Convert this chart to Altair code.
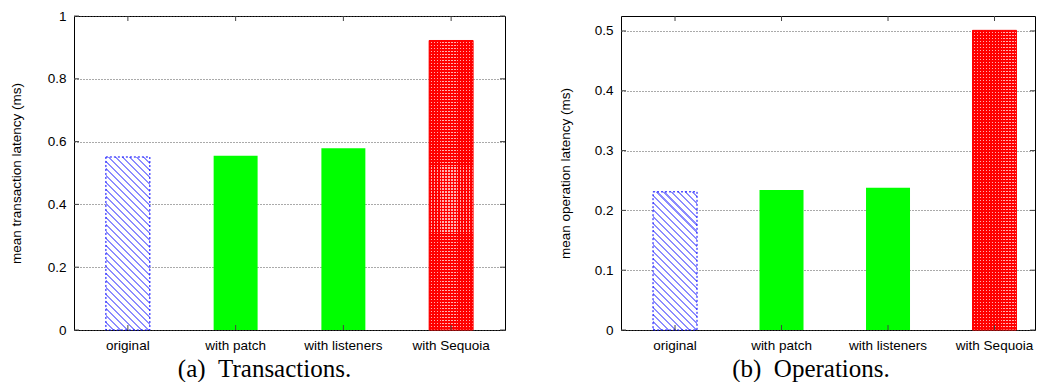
import altair as alt
import pandas as pd

# ---------------- data ----------------
categories = ["original", "with patch", "with listeners", "with Sequoia"]
tx_latency = [0.551, 0.555, 0.579, 0.922]
op_latency = [0.231, 0.234, 0.238, 0.501]
tx_ticks = [0, 0.2, 0.4, 0.6, 0.8, 1.0]
op_ticks = [0, 0.1, 0.2, 0.3, 0.4, 0.5]
tx_max = 1.0
op_max = 0.525
tx_title = "mean transaction latency (ms)"
op_title = "mean operation latency (ms)"
tx_caption = "(a)\u2002Transactions."
op_caption = "(b)\u2002Operations."

# ---------------- style ----------------
FONT = "Liberation Sans"
H = 314
BAR_W = 44
W_LEFT = 431
W_RIGHT = 414
TICK_COLOR = "#444444"


def stripes(n, frac, c_on, c_off):
    stops = []
    for k in range(n):
        a = k / n
        b = (k + frac) / n
        c = min(1.0, (k + 1) / n)
        stops += [
            {"offset": a, "color": c_on},
            {"offset": b, "color": c_on},
            {"offset": b, "color": c_off},
            {"offset": c, "color": c_off},
        ]
    return stops


def hatch(w, h, period=5.0, frac=0.3):
    a = w / h
    s = 1.25
    L = s * h * (a * a + 1) / 2 ** 0.5
    n = max(1, round(L / period))
    return {"gradient": "linear", "x1": 0, "y1": 1, "x2": s * a, "y2": 1 - s,
            "stops": stripes(n, frac, "#8c8cff", "#ffffff")}


def mesh_h(h, period=3.0, frac=0.55):
    n = max(1, round(h / period))
    return {"gradient": "linear", "x1": 0, "y1": 0, "x2": 0, "y2": 1,
            "stops": stripes(n, frac, "#ff0000", "#ffb0b0")}


def mesh_v(w, period=3.0, frac=0.55):
    n = max(1, round(w / period))
    return {"gradient": "linear", "x1": 0, "y1": 0, "x2": 1, "y2": 0,
            "stops": stripes(n, frac, "#ff0000", "rgba(255,0,0,0)")}


def panel(values, ymax, ticks, ytitle, caption, width, xscale, title_x, cap_dx):
    df = pd.DataFrame({"cat": categories, "val": values})
    tdf = pd.DataFrame({"val": ticks})
    cdf = pd.DataFrame({"cat": categories})
    yscale = alt.Scale(domain=[0, ymax], nice=False, zero=True)

    x_axis = alt.Axis(title=None, labelAngle=0, ticks=False, domain=False, labelPadding=8)
    y_axis = alt.Axis(values=ticks, format="~g", grid=True, gridColor="#555555",
                      gridDash=[1, 2], gridWidth=1, ticks=False, domain=False,
                      labelPadding=8, title=ytitle, titleX=title_x, titleY=H / 2)
    x = alt.X("cat:N", sort=categories, scale=xscale, axis=x_axis)
    y = alt.Y("val:Q", scale=yscale, axis=y_axis)
    base = alt.Chart(df).encode(x=x, y=y)

    h_orig = values[0] / ymax * H
    h_red = values[3] / ymax * H

    orig = base.transform_filter(alt.datum.cat == categories[0]).mark_bar(
        fill=hatch(BAR_W, h_orig), stroke="#0000ff", strokeDash=[2, 2], strokeWidth=1)
    green = base.transform_filter(
        (alt.datum.cat == categories[1]) | (alt.datum.cat == categories[2])
    ).mark_bar(color="#00ff00")
    red1 = base.transform_filter(alt.datum.cat == categories[3]).mark_bar(
        fill=mesh_h(h_red))
    red2 = base.transform_filter(alt.datum.cat == categories[3]).mark_bar(
        fill=mesh_v(BAR_W), stroke="#ff0000", strokeWidth=1)

    yt = alt.Chart(tdf).encode(y=y)
    lt = yt.mark_rule(color=TICK_COLOR).encode(x=alt.value(0), x2=alt.value(5))
    rt = yt.mark_rule(color=TICK_COLOR).encode(x=alt.value(width - 5), x2=alt.value(width))
    xt = alt.Chart(cdf).encode(x=x)
    tt = xt.mark_rule(color=TICK_COLOR).encode(y=alt.value(0), y2=alt.value(5))
    bt = xt.mark_rule(color=TICK_COLOR).encode(y=alt.value(H - 5), y2=alt.value(H))

    return alt.layer(orig, green, red1, red2, lt, rt, tt, bt).properties(
        width=width, height=H,
        title=alt.TitleParams(text=caption, orient="bottom", anchor="middle", frame="group",
                              dx=cap_dx, offset=5, font="Liberation Serif", fontSize=25,
                              fontWeight="normal", color="black"),
    )


xs_left = alt.Scale(paddingInner=0.592, paddingOuter=0.296, align=0.5, round=False)
xs_right = alt.Scale(paddingInner=0.5869, paddingOuter=0.2371, align=0.634, round=False)

left = panel(tx_latency, tx_max, tx_ticks, tx_title, tx_caption, W_LEFT, xs_left, -51, -25)
right = panel(op_latency, op_max, op_ticks, op_title, op_caption, W_RIGHT, xs_right, -49, -17)

chart = alt.hconcat(left, right, spacing=116, bounds="flush").properties(
    padding={"left": 0, "top": 0, "right": 0, "bottom": 0}
).configure_view(stroke="black", strokeWidth=1).configure_axis(
    labelFont=FONT, labelFontSize=13.5, labelColor="black",
    titleFont=FONT, titleFontSize=13.5, titleFontWeight="normal", titleColor="black",
)

chart.save("out.html", embed_options={"renderer": "svg", "actions": False})
